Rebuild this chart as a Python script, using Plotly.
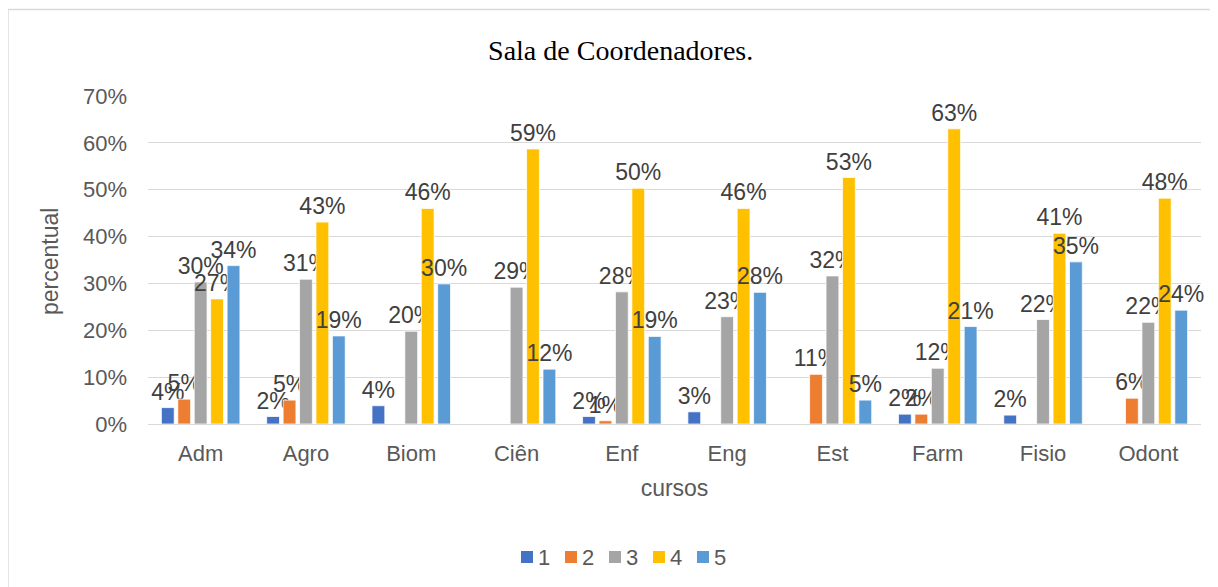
import plotly.graph_objects as go

categories = ["Adm", "Agro", "Biom", "Ciên", "Enf", "Eng", "Est", "Farm", "Fisio", "Odont"]
series_names = ["1", "2", "3", "4", "5"]
s1 = [0.035, 0.016, 0.039, 0.0, 0.016, 0.026, 0.0, 0.021, 0.019, 0.0]
s2 = [0.053, 0.051, 0.0, 0.0, 0.007, 0.0, 0.106, 0.021, 0.0, 0.055]
s3 = [0.303, 0.309, 0.198, 0.292, 0.282, 0.229, 0.316, 0.119, 0.223, 0.217]
s4 = [0.267, 0.431, 0.460, 0.587, 0.503, 0.460, 0.526, 0.630, 0.407, 0.482]
s5 = [0.338, 0.188, 0.299, 0.117, 0.187, 0.281, 0.051, 0.208, 0.346, 0.243]
colors = ["#4472C4", "#ED7D31", "#A5A5A5", "#FFC000", "#5B9BD5"]

all_series = [s1, s2, s3, s4, s5]

fig = go.Figure()
for name, vals, col in zip(series_names, all_series, colors):
    labels = [f"{round(v * 100)}%" if v > 0 else "" for v in vals]
    fig.add_trace(go.Bar(
        x=categories, y=vals, name=name,
        marker=dict(color=col, line=dict(color="white", width=0.75)),
        text=labels, textposition="outside", constraintext="none",
        cliponaxis=False,
        textfont=dict(family="Liberation Sans, Arial", size=23, color="#404040"),
        hoverinfo="x+y",
    ))

L, R, T, B = 140, 25, 88, 171
W, H = 1218, 587
pw, ph = W - L - R, H - T - B

fig.update_layout(
    width=W, height=H,
    paper_bgcolor="white", plot_bgcolor="white",
    barmode="group", bargap=0.22, bargroupgap=0.22,
    margin=dict(l=L, r=R, t=T, b=B),
    font=dict(family="Liberation Sans, Arial", size=22, color="#595959"),
    title=dict(text="Sala de Coordenadores.", x=0.503, xanchor="center", xref="container",
               y=0.928, yanchor="middle", yref="container",
               font=dict(family="Liberation Serif, Times New Roman", size=28, color="black")),
    showlegend=False,
)
fig.update_yaxes(range=[0, 0.7], dtick=0.1, tickformat=".0%", showgrid=True,
                 gridcolor="#d9d9d9", gridwidth=1.2, zeroline=True, zerolinecolor="#d9d9d9",
                 zerolinewidth=1.2, showline=False, ticklabelstandoff=20,
                 tickfont=dict(size=22, color="#595959"))
fig.update_xaxes(showline=False, showgrid=False, ticklabelstandoff=14,
                 tickfont=dict(size=22, color="#595959"),
                 title=dict(text="cursos", standoff=14, font=dict(size=23, color="#595959")))

fig.add_annotation(text="percentual", xref="paper", yref="paper", x=-0.093, y=0.494,
                   textangle=-90, showarrow=False, xanchor="center", yanchor="middle",
                   font=dict(size=23, color="#595959"))

# legend drawn as squares + text (bottom centre)
leg_y = (416 - 549) / ph
sq = 12
for i, (name, col) in enumerate(zip(series_names, colors)):
    x0 = 513 + 44 * i
    fig.add_shape(type="rect", xref="paper", yref="paper",
                  x0=(x0 - L) / pw, x1=(x0 + sq - L) / pw,
                  y0=leg_y - sq / 2 / ph, y1=leg_y + sq / 2 / ph,
                  line=dict(width=0), fillcolor=col)
    fig.add_annotation(text=name, xref="paper", yref="paper",
                       x=(x0 + sq + 3 - L) / pw, y=leg_y, xanchor="left", yanchor="middle",
                       showarrow=False, font=dict(size=22, color="#595959"))

fig.add_shape(type="rect", xref="paper", yref="paper",
              x0=-0.133, x1=1.2, y0=-0.6, y1=1.264,
              line=dict(color="#d9d9d9", width=1.5), fillcolor="rgba(0,0,0,0)", layer="below")

fig.write_html("out.html")
